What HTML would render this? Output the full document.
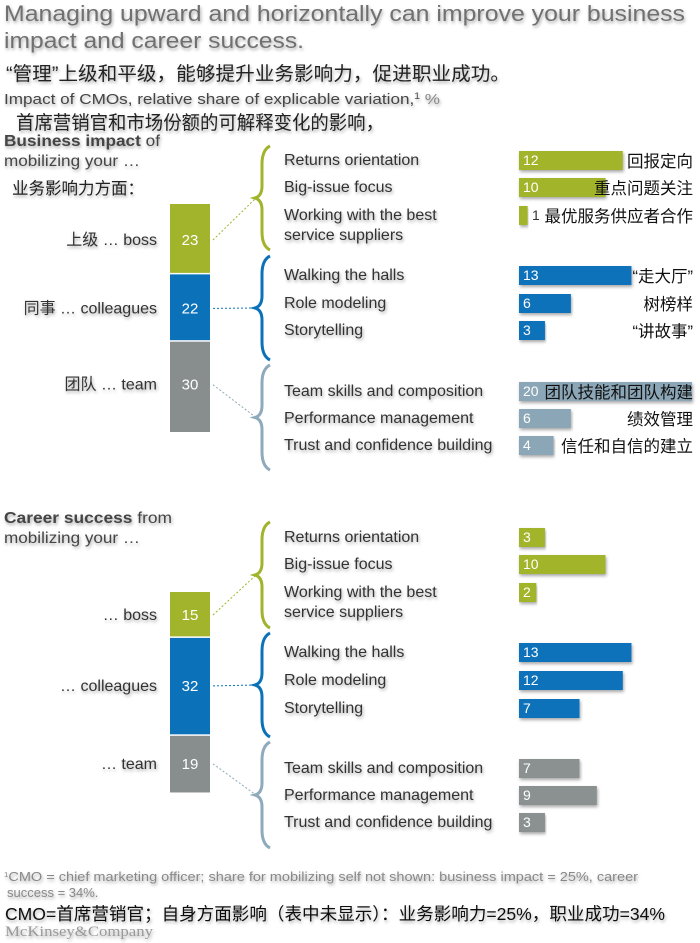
<!DOCTYPE html>
<html><head><meta charset="utf-8">
<style>
html,body{margin:0;padding:0;background:#fff;}
svg{display:block;}
text{font-family:"Liberation Sans","Noto Sans CJK SC",sans-serif;}
.sh{filter:url(#ts);}
</style></head>
<body>
<svg id="chart" width="700" height="943" viewBox="0 0 700 943">
<defs>
<filter id="ts" x="-5%" y="-20%" width="110%" height="150%">
<feGaussianBlur in="SourceAlpha" stdDeviation="1.5"/>
<feOffset dx="1" dy="2" result="b"/>
<feComponentTransfer><feFuncA type="linear" slope="0.35"/></feComponentTransfer>
<feMerge><feMergeNode/><feMergeNode in="SourceGraphic"/></feMerge>
</filter>
</defs>
<g class="sh">
<text x="4" y="21" font-size="22" fill="#707070" textLength="681" lengthAdjust="spacingAndGlyphs">Managing upward and horizontally can improve your business</text>
<text x="4" y="48" font-size="22" fill="#707070" textLength="300" lengthAdjust="spacingAndGlyphs">impact and career success.</text>
<text x="6" y="80" font-size="19" fill="#222" textLength="504" lengthAdjust="spacingAndGlyphs">“管理”上级和平级，能够提升业务影响力，促进职业成功。</text>
<text x="4" y="104" font-size="15" fill="#444" textLength="436" lengthAdjust="spacingAndGlyphs">Impact of CMOs, relative share of explicable variation,<tspan font-size="9" dy="-5">1</tspan><tspan dy="5" fill="#888"> %</tspan></text>
<text x="16" y="129" font-size="19" fill="#222" textLength="368" lengthAdjust="spacingAndGlyphs">首席营销官和市场份额的可解释变化的影响，</text>
<text x="4" y="146" font-size="15.5" fill="#444" textLength="156" lengthAdjust="spacingAndGlyphs"><tspan font-weight="bold">Business impact</tspan> of</text>
<text x="4" y="166" font-size="15.5" fill="#444" textLength="136" lengthAdjust="spacingAndGlyphs">mobilizing your …</text>
<text x="12" y="194" font-size="16.5" fill="#222">业务影响力方面：</text>
<text x="4" y="523" font-size="15.5" fill="#444" textLength="168" lengthAdjust="spacingAndGlyphs"><tspan font-weight="bold">Career success</tspan> from</text>
<text x="4" y="543" font-size="15.5" fill="#444" textLength="136" lengthAdjust="spacingAndGlyphs">mobilizing your …</text>
<text x="4" y="881" font-size="13" fill="#888" textLength="634" lengthAdjust="spacingAndGlyphs"><tspan font-size="7" dy="-4">1</tspan><tspan dy="4">CMO = chief marketing officer; share for mobilizing self not shown: business impact = 25%, career</tspan></text>
<text x="7" y="897" font-size="13" fill="#888">success = 34%.</text>
<text x="5" y="920" font-size="17.5" fill="#111" textLength="660" lengthAdjust="spacingAndGlyphs">CMO=首席营销官；自身方面影响（表中未显示）：业务影响力=25%，职业成功=34%</text>
<text x="5" y="936" font-size="15" fill="#999" style="font-family:'Liberation Serif',serif" textLength="148" lengthAdjust="spacingAndGlyphs">McKinsey&amp;Company</text>
</g>
<g id="plot"></g>
</svg>
<script>
// Data
const groups = ["boss", "colleagues", "team"];
const groupLabelsTop = ["上级  … boss", "同事 … colleagues", "团队  … team"];
const groupLabelsBottom = ["… boss", "… colleagues", "… team"];
const businessShares = [23, 22, 30];
const careerShares = [15, 32, 19];
const items = ["Returns orientation", "Big-issue focus", "Working with the best|service suppliers",
  "Walking the halls", "Role modeling", "Storytelling",
  "Team skills and composition", "Performance management", "Trust and confidence building"];
const itemsChinese = ["回报定向", "重点问题关注", "最优服务供应者合作", "“走大厅”", "树榜样", "“讲故事”", "团队技能和团队构建", "绩效管理", "信任和自信的建立"];
const businessValues = [12, 10, 1, 13, 6, 3, 20, 6, 4];
const careerValues = [3, 10, 2, 13, 12, 7, 7, 9, 3];

const NS = "http://www.w3.org/2000/svg";
const plot = document.getElementById("plot");
const stackColors = ["#a1b42c", "#0b72b9", "#888d8d"];
const braceColors = ["#a1b42c", "#0b72b9", "#8eaabb"];
function mk(tag, attrs, parent) {
  const e = document.createElementNS(NS, tag);
  for (const k in attrs) e.setAttribute(k, attrs[k]);
  (parent || plot).appendChild(e);
  return e;
}
// axis functions
const xBar = v => v * 8.65;           // bar length
const hStack = v => v * 3.06;         // stack segment height

function drawSection(cfg) {
  let y = cfg.stackTop;
  cfg.shares.forEach((v, i) => {
    const h = hStack(v);
    const r = mk("rect", {x: 170, y: y, width: 40, height: h - 1.5, fill: stackColors[i]});
    
    
    const t = mk("text", {x: 190, y: y + cfg.labelDy[i], "text-anchor": "middle", "font-size": 15, fill: "#fff"});
    t.textContent = v;
    
    
    const g = mk("text", {x: 157, y: y + cfg.labelDy[i], "text-anchor": "end", "font-size": 16, fill: "#333", class: "sh"});
    g.textContent = cfg.groupLabels[i];
    
    
    const by = cfg.braces[i];
    const l = mk("line", {x1: 213, y1: y + cfg.labelDy[i] - 5, x2: 256, y2: (by[0] + by[1]) / 2, stroke: braceColors[i], "stroke-width": 1, "stroke-dasharray": "2,2"});
    
    
    const t0 = by[0], t1 = by[1], m = (t0 + t1) / 2;
    const p = mk("path", {d: `M270 ${t0} Q262 ${t0+4} 262 ${t0+18} L262 ${m-12} Q262 ${m-2} 255 ${m} Q262 ${m+2} 262 ${m+12} L262 ${t1-18} Q262 ${t1-4} 270 ${t1}`, fill: "none", stroke: braceColors[i], "stroke-width": 3});
    
    
    y += hStack(v);
  });
  cfg.values.forEach((v, i) => {
    const ry = cfg.rows[i];
    const parts = items[i].split("|");
    const lt = mk("text", {x: 284, y: ry + 5, "font-size": 16, fill: "#333", class: "sh"});
    
    
    parts.forEach((p, k) => { const ts = mk("tspan", {x: 284, dy: k ? 20 : 0}, lt); ts.textContent = p; });
    const col = i < 3 ? stackColors[0] : i < 6 ? stackColors[1] : cfg.teamBar;
    const b = mk("rect", {x: 519, y: ry - 9, width: Math.max(xBar(v), 7), height: 19, fill: col, class: "sh"});
    
    
    const inside = xBar(v) > 14;
    const vt = mk("text", {x: inside ? 523 : 532, y: ry + 5, "font-size": 14, fill: inside ? "#fff" : "#333"});
    vt.textContent = v;
    
    
    if (cfg.chinese) {
      const ct = mk("text", {x: 693, y: ry + 7, "text-anchor": "end", "font-size": 16.5, fill: "#111"});
      ct.textContent = itemsChinese[i];
      
      
    }
  });
}
drawSection({key: "business", stackTop: 204, shares: businessShares, values: businessValues,
  groupLabels: groupLabelsTop, labelDy: [41, 39, 48], braces: [[146, 250], [256, 360], [365, 470]],
  rows: [160, 187, 215, 275, 303, 330, 391, 418, 445], teamBar: "#8ba6b6", chinese: true});
drawSection({key: "career", stackTop: 592, shares: careerShares, values: careerValues,
  groupLabels: groupLabelsBottom, labelDy: [28, 53, 33], braces: [[522, 628], [633, 737], [742, 848]],
  rows: [537, 564, 592, 652, 680, 708, 768, 795, 822], teamBar: "#8b9090", chinese: false});
</script>
</body></html>
